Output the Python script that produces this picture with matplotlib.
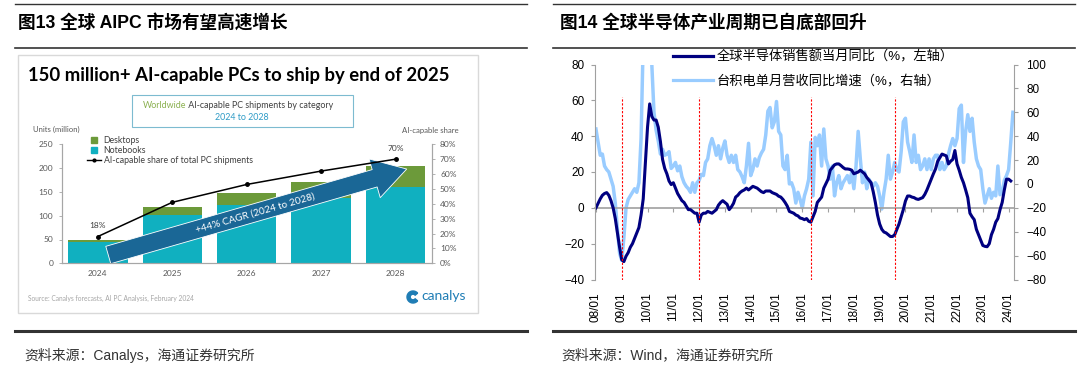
import matplotlib
matplotlib.use("Agg")
import matplotlib.pyplot as plt
from matplotlib.lines import Line2D
from matplotlib.patches import Rectangle, Wedge
from matplotlib.ticker import FuncFormatter

plt.rcParams['font.family'] = ['Liberation Sans', 'Noto Sans CJK SC']

# left panel: Canalys forecast of AI-capable PC shipments (million units)
ai_years = ["2024", "2025", "2026", "2027", "2028"]
notebooks = [44, 101, 122, 137, 161]
desktops = [4, 18, 26, 34, 43]
ai_share = [18, 41, 53, 62, 70]   # % of total PC shipments

# right panel: monthly YoY growth, first point = 2008/01
start_year = 2008
semi_sales_yoy = [
    0, 2.5, 5, 7, 8, 8.5, 7, 4, 0, -6, -14, -22,
    -29, -30, -27, -25, -22, -20, -17, -14, -11, -4, 5, 25,
    45, 58, 51, 49, 49, 45, 37, 27, 22, 19, 15, 13,
    14, 11, 8, 6, 4, 3, 1, -1, -1, -2, -3, -3,
    -8, -4, -3, -3, -2, -2.5, -3, -2, -1, 1.5, 3, 4,
    3, 2, -1, 0.5, 2.5, 6, 7, 8.5, 9.4, 10, 11, 10,
    11, 12, 11.5, 11, 10, 9, 8.5, 9.4, 9.4, 9.4, 8.5, 8,
    7.5, 6.5, 6, 4.7, 3, 1, -2, -2.5, -3, -4, -4.5, -5.7,
    -6, -6.6, -6, -7.5, -8, -5, -2, 3, 4.5, 6, 11, 13.5,
    16, 21, 22.5, 24, 24.5, 24.5, 23.6, 22.5, 21.7, 21.7, 21.5, 21,
    19, 19.5, 20, 21, 20, 19, 17, 15.5, 14, 9, 3, -4,
    -9, -12, -13.5, -14, -15, -16, -16, -15, -12, -9, -5, -1,
    3.8, 6.6, 6.6, 6, 5.7, 5, 4.7, 5.2, 5.7, 7.5, 10, 13,
    16, 19, 21.7, 26, 28, 30, 29.5, 29, 24.5, 26, 27, 32,
    24.5, 21, 17, 14, 10, 5.7, -3, -5, -6.6, -12, -15, -18,
    -21, -21.5, -21.7, -20, -15, -12, -8, -6, -1, 3, 10, 16,
    16, 15,
]
tsmc_rev_yoy = [
    46, 35, 24, 25, 15, 12, 10, 4, -2, -16, -38, -58,
    -64, -45, -20, -13, -10, -7, -4, -7, 1, 38, 120, 150,
    170, 140, 100, 60, 45, 36, 25, 29, 24, 25, 27, 13,
    15, 18, 11, 15, 6, 1, -2, -4, -7, 1, -7, 1,
    3, 8, 7, 18, 21, 32, 38, 32, 24, 32, 21, 30,
    36, 24, 18, 24, 18, 24, 12, 10, 6, 1, 15, 34,
    7, 12, 21, 15, 22, 26, 29, 41, 61, 64, 47, 52,
    69, 44, 41, 15, 12, 24, 0, 1, -4, -16, -7, -13,
    -20, -10, -4, 4, 35, -10, 39, 32, 41, 15, 46, 21,
    15, 4, 15, -10, 1, 7, -4, 1, 4, 7, 1, 10,
    -4, 15, 44, 21, 1, 10, -4, 4, 1, -2, 1, -2,
    -10, -21, -7, 4, 24, 4, 10, 18, 12, 10, 27, 52,
    55, 35, 27, 18, 41, 18, 24, 12, 15, 21, 12, 21,
    12, 21, 24, 24, 12, 18, 12, 15, 25, 32, 38, 32,
    38, 63, 66, 18, 44, 58, 44, 55, 35, 21, 15, 12,
    -4, -16, -10, -4, -12, -7, -10, 15, -9, -7, 3, 7,
    12, 35, 60,
]
trough_months = ["2009/01", "2012/01", "2016/05", "2019/08"]
year_labels = [f"{y % 100:02d}/01" for y in range(2008, 2025)]

NAVY = "#000080"
LIGHT = "#99CCFF"
TEAL = "#10B0C0"
GREEN = "#6C9A3A"
GRAY = "#A0A0A0"


def month_index(s):
    y, m = s.split("/")
    return (int(y) - start_year) * 12 + int(m) - 1


fig = plt.figure(figsize=(10.8, 3.78), dpi=100)

# overlay in pixel coordinates for rules, titles and notes
ov = fig.add_axes([0, 0, 1, 1], zorder=0)
ov.set_xlim(0, 1080)
ov.set_ylim(378, 0)
ov.axis("off")
for x0, x1 in [(15, 527), (553, 1075)]:
    ov.plot([x0, x1], [4, 4], color="#333333", lw=1.0)
    ov.plot([x0, x1], [48, 48], color="#333333", lw=1.2)
    ov.plot([x0, x1], [331, 331], color="#333333", lw=2.2)
ov.text(18, 23, "图13 全球 AIPC 市场有望高速增长", fontsize=12.7,
        fontweight="bold", va="center")
ov.text(560, 23, "图14 全球半导体产业周期已自底部回升", fontsize=12.7,
        fontweight="bold", va="center")
ov.text(24, 355, "资料来源：Canalys，海通证券研究所", fontsize=10,
        color="#333333", va="center")
ov.text(561, 355, "资料来源：Wind，海通证券研究所", fontsize=10,
        color="#333333", va="center")

# Canalys picture frame and texts
ov.add_patch(Rectangle((18, 55), 460, 258, facecolor="white",
                       edgecolor="#D9D9D9", lw=1))
ov.text(28, 76, "150 million+ AI-capable PCs to ship by end of 2025",
        family="Lato", fontweight="bold", fontsize=13.3, va="center")
ov.add_patch(Rectangle((132, 95), 221, 32, fill=False,
                       edgecolor="#7DBBD0", lw=0.8))
t1 = ov.text(143, 110, "Worldwide", family="Lato", fontsize=6.4,
             color="#8AB04F", va="bottom")
ov.annotate(" AI-capable PC shipments by category", xy=(1, 0),
            xycoords=t1, family="Lato", fontsize=6.4, color="#404040",
            va="bottom", ha="left")
ov.text(242, 117, "2024 to 2028", family="Lato", fontsize=6.4,
        color="#2E9BC6", ha="center", va="center")
ov.text(33, 129, "Units (million)", family="Lato", fontsize=5.6,
        color="#595959", va="center")
ov.text(402, 131, "AI-capable share", family="Lato", fontsize=5.6,
        color="#595959", va="center")
ov.text(28, 298, "Source: Canalys forecasts, AI PC Analysis, February 2024",
        family="Lato", fontsize=4.8, color="#A6A6A6", va="center")
ov.add_patch(Wedge((413, 297), 6, 40, 320, width=3.2, color="#1F7DB5"))
ov.text(421, 296, "canalys", family="Lato", fontsize=10,
        color="#1F7DB5", va="center")

# Canalys bar chart
ax_c = fig.add_axes([61.7 / 1080, 1 - 263.3 / 378, 370 / 1080, 119 / 378],
                    zorder=1)
x = list(range(len(ai_years)))
ax_c.bar(x, notebooks, 0.8, color=TEAL, zorder=2)
ax_c.bar(x, desktops, 0.8, bottom=notebooks, color=GREEN, zorder=2)
ax_c.set_xlim(-0.486, 4.486)
ax_c.set_ylim(0, 250)
ax_c.set_yticks(range(0, 251, 50))
ax_c.set_xticks(x, ai_years)
ax_c.set_facecolor("none")
ax_c.annotate("", xy=(4.15, 198), xytext=(0.14, 17.4),
              arrowprops=dict(arrowstyle="simple,head_length=2.4,"
                              "head_width=2.9,tail_width=1.3",
                              mutation_scale=10, fc="#1A6796",
                              ec="white", lw=0.6, shrinkA=0, shrinkB=0),
              zorder=3)
ax_c.text(2.11, 105, "+44% CAGR (2024 to 2028)", family="Lato",
          fontsize=7.2, color="white", rotation=16, ha="center",
          va="center", rotation_mode="anchor", zorder=4)

ax_c2 = ax_c.twinx()
ax_c2.plot(x, ai_share, color="black", lw=1.1, marker="o", ms=2.5,
           zorder=5)
ax_c2.set_ylim(0, 80)
ax_c2.set_yticks(range(0, 81, 10))
ax_c2.yaxis.set_major_formatter(FuncFormatter(lambda v, p: f"{v:.0f}%"))
ax_c2.annotate(f"{ai_share[0]}%", (x[0], ai_share[0]), xytext=(0, 6),
               textcoords="offset points", ha="center", fontsize=6,
               family="Lato", color="#404040")
ax_c2.annotate(f"{ai_share[-1]}%", (x[-1], ai_share[-1]), xytext=(0, 6),
               textcoords="offset points", ha="center", fontsize=6,
               family="Lato", color="#404040")

for a in (ax_c, ax_c2):
    a.spines["top"].set_visible(False)
    for s in ("left", "right", "bottom"):
        a.spines[s].set_color("#A6A6A6")
        a.spines[s].set_linewidth(0.8)
    a.tick_params(labelsize=6, labelcolor="#595959", color="#A6A6A6",
                  length=2.5, width=0.6)
    for lab in a.get_xticklabels() + a.get_yticklabels():
        lab.set_fontfamily("Lato")
ax_c.tick_params(axis="x", length=0, pad=5)

leg_handles = [
    Line2D([], [], marker="s", ls="none", color=GREEN, ms=4.5),
    Line2D([], [], marker="s", ls="none", color=TEAL, ms=4.5),
    Line2D([], [], color="black", lw=1.0, marker="o", ms=2),
]
ax_c.legend(leg_handles, ["Desktops", "Notebooks",
                          "AI-capable share of total PC shipments"],
            loc="upper left", bbox_to_anchor=(87 / 1080, 1 - 136 / 378),
            bbox_transform=fig.transFigure, frameon=False,
            prop={"family": "Lato", "size": 6.3}, handlelength=1.6,
            handletextpad=0.3, labelspacing=0.12, borderpad=0,
            borderaxespad=0, labelcolor="#404040")

# semiconductor cycle chart
ax_s = fig.add_axes([595.4 / 1080, 1 - 279.5 / 378, 418.6 / 1080,
                     215 / 378])
ax2 = ax_s.twinx()
x_n = list(range(len(semi_sales_yoy)))
x_t = list(range(len(tsmc_rev_yoy)))
ax2.plot(x_t, tsmc_rev_yoy, color=LIGHT, lw=2.5)
ax_s.plot(x_n, semi_sales_yoy, color=NAVY, lw=2.2)
ax_s.set_zorder(ax2.get_zorder() + 1)
ax_s.patch.set_visible(False)

ax_s.vlines([month_index(m) for m in trough_months], -40, 62,
            colors="#FF0000", linestyles=(0, (2, 1.5)), lw=0.8)

ax_s.set_xlim(-0.25, 194.5)
ax_s.set_ylim(-40, 80)
ax2.set_ylim(-80, 100)
ax_s.set_yticks(range(-40, 81, 20))
ax2.set_yticks(range(-80, 101, 20))
ax_s.set_xticks(range(0, 12 * len(year_labels), 12), year_labels,
                rotation=90)
ax_s.tick_params(axis="x", length=0, pad=9, labelsize=8.5)
ax_s.tick_params(axis="y", labelsize=8.5, length=3, color=GRAY, pad=5)
ax2.tick_params(axis="y", labelsize=8.5, length=3, color=GRAY, pad=6)

for s in ("top", "bottom", "right"):
    ax_s.spines[s].set_visible(False)
for s in ("top", "bottom", "left"):
    ax2.spines[s].set_visible(False)
ax_s.spines["left"].set_color(GRAY)
ax2.spines["right"].set_color(GRAY)

# horizontal axis drawn through zero on the left scale
zero_axis = ax_s.secondary_xaxis(1 / 3)
zero_axis.set_xticks(range(0, 12 * len(year_labels), 12))
zero_axis.tick_params(length=3, color=GRAY, labelbottom=False,
                      labeltop=False)
for s in zero_axis.spines.values():
    s.set_color(GRAY)
    s.set_linewidth(1.2)

ax_s.legend([Line2D([], [], color=NAVY, lw=2.3),
             Line2D([], [], color=LIGHT, lw=2.3)],
            ["全球半导体销售额当月同比（%，左轴）",
             "台积电单月营收同比增速（%，右轴）"],
            loc="upper left", bbox_to_anchor=(673 / 1080, 1 - 50 / 378),
            bbox_transform=fig.transFigure, frameon=False, fontsize=9.5,
            handlelength=3.0, handletextpad=0.3, labelspacing=0.85,
            borderpad=0, borderaxespad=0)

fig.savefig("out.png", dpi=100)
